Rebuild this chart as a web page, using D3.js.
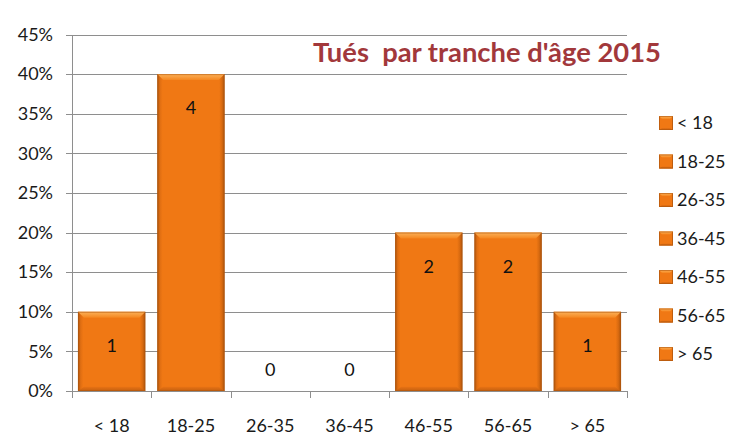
<!DOCTYPE html>
<html lang="fr">
<head>
<meta charset="utf-8">
<title>Tués par tranche d'âge 2015</title>
<script src="https://cdnjs.cloudflare.com/ajax/libs/d3/7.8.5/d3.min.js"></script>
<style>
  body { margin: 0; background: #fff; }
  svg { display: block; font-family: Lato, "Open Sans", sans-serif; }
</style>
</head>
<body>
<script>
// données du graphique
var categories = ["< 18", "18-25", "26-35", "36-45", "46-55", "56-65", "> 65"];
var counts = [1, 4, 0, 0, 2, 2, 1];
var shares = [0.10, 0.40, 0, 0, 0.20, 0.20, 0.10];
var yTicks = [0, 0.05, 0.10, 0.15, 0.20, 0.25, 0.30, 0.35, 0.40, 0.45];
var titleText = "Tués  par tranche d'âge 2015";

var w = 732, h = 439;
var plotLeft = 72, plotRight = 627, plotTop = 34.5, plotBottom = 391;

var svg = d3.select("body").append("svg")
    .attr("width", w)
    .attr("height", h);

var defs = svg.append("defs");
// side shading of the bars
var side = defs.append("linearGradient").attr("id", "barSide")
    .attr("x1", 0).attr("x2", 1).attr("y1", 0).attr("y2", 0);
side.append("stop").attr("offset", "0%").attr("stop-color", "#a9520c");
side.append("stop").attr("offset", "4%").attr("stop-color", "#e06e12");
side.append("stop").attr("offset", "8%").attr("stop-color", "#f07814");
side.append("stop").attr("offset", "92%").attr("stop-color", "#f07814");
side.append("stop").attr("offset", "96%").attr("stop-color", "#d86a10");
side.append("stop").attr("offset", "100%").attr("stop-color", "#a9520c");
var topG = defs.append("linearGradient").attr("id", "barTop")
    .attr("x1", 0).attr("x2", 0).attr("y1", 0).attr("y2", 1);
topG.append("stop").attr("offset", "0%").attr("stop-color", "#fbb25a");
topG.append("stop").attr("offset", "100%").attr("stop-color", "#f5861f");
var botG = defs.append("linearGradient").attr("id", "barBot")
    .attr("x1", 0).attr("x2", 0).attr("y1", 0).attr("y2", 1);
botG.append("stop").attr("offset", "0%").attr("stop-color", "#e87214");
botG.append("stop").attr("offset", "100%").attr("stop-color", "#c4600f");

var x = d3.scaleBand()
    .domain(categories)
    .range([plotLeft, plotRight])
    .paddingInner(0.15)
    .paddingOuter(0.075);

var y = d3.scaleLinear()
    .domain([0, 0.45])
    .range([plotBottom, plotTop]);

// grid lines (they also make the y tick marks)
svg.append("g").selectAll("line")
    .data(yTicks)
    .enter().append("line")
    .attr("x1", plotLeft - 6).attr("x2", plotRight)
    .attr("y1", function(d) { return Math.round(y(d)) + 0.5; })
    .attr("y2", function(d) { return Math.round(y(d)) + 0.5; })
    .attr("stroke", "#8e8e8e")
    .attr("stroke-width", 1);

// y axis line
svg.append("line")
    .attr("x1", plotLeft + 0.5).attr("x2", plotLeft + 0.5)
    .attr("y1", Math.round(y(0.45))).attr("y2", Math.round(y(0)) + 1)
    .attr("stroke", "#8e8e8e");

// y tick labels
svg.append("g").selectAll("text")
    .data(yTicks)
    .enter().append("text")
    .attr("x", 53)
    .attr("y", function(d) { return y(d); })
    .attr("dy", "0.35em")
    .attr("text-anchor", "end")
    .attr("font-size", 18)
    .attr("fill", "#1a1a1a")
    .text(d3.format(".0%"));

// x tick marks at category boundaries
var bounds = categories.map(function(c) { return x(c) - x.step() * x.paddingInner() / 2; });
bounds.push(plotRight);
svg.append("g").selectAll("line")
    .data(bounds)
    .enter().append("line")
    .attr("x1", function(d) { return Math.round(d) + 0.5; })
    .attr("x2", function(d) { return Math.round(d) + 0.5; })
    .attr("y1", Math.round(y(0))).attr("y2", Math.round(y(0)) + 7)
    .attr("stroke", "#8e8e8e");

// x labels
svg.append("g").selectAll("text")
    .data(categories)
    .enter().append("text")
    .attr("x", function(d) { return x(d) + x.bandwidth() / 2; })
    .attr("y", 426)
    .attr("dy", "0.35em")
    .attr("text-anchor", "middle")
    .attr("font-size", 18)
    .attr("fill", "#1a1a1a")
    .text(function(d) { return d; });

var rows = categories.map(function(c, i) { return { cat: c, n: counts[i], v: shares[i] }; });

function drawBar(g, bx, by, bw, bh, bevel) {
    g.append("rect")
        .attr("x", bx).attr("y", by).attr("width", bw).attr("height", bh)
        .attr("fill", "url(#barSide)");
    g.append("path")
        .attr("d", "M" + bx + "," + by + "h" + bw + "l-" + bevel + "," + bevel +
            "h-" + (bw - 2 * bevel) + "z")
        .attr("fill", "url(#barTop)");
    g.append("path")
        .attr("d", "M" + bx + "," + (by + bh) + "h" + bw + "l-" + bevel + ",-" + (bevel * 0.7) +
            "h-" + (bw - 2 * bevel) + "z")
        .attr("fill", "url(#barBot)");
    g.append("rect")
        .attr("x", bx + 0.5).attr("y", by + 0.5).attr("width", bw - 1).attr("height", bh - 1)
        .attr("fill", "none")
        .attr("stroke", "#b0560e")
        .attr("stroke-opacity", 0.6);
}

// bars
svg.append("g").selectAll("g")
    .data(rows.filter(function(d) { return d.v > 0; }))
    .enter().append("g")
    .each(function(d) {
        drawBar(d3.select(this), x(d.cat), y(d.v), x.bandwidth(), y(0) - y(d.v), 6);
    });

// data labels
svg.append("g").selectAll("text")
    .data(rows)
    .enter().append("text")
    .attr("x", function(d) { return x(d.cat) + x.bandwidth() / 2; })
    .attr("y", function(d) { return Math.min(y(d.v) + 34, y(0) - 21); })
    .attr("dy", "0.35em")
    .attr("text-anchor", "middle")
    .attr("font-size", 18)
    .attr("fill", "#111")
    .text(function(d) { return d.n; });

// title
var title = svg.append("text")
    .attr("x", 313)
    .attr("y", 52)
    .attr("dy", "0.35em")
    .attr("font-size", 24)
    .attr("font-weight", "bold")
    .attr("fill", "#a2383b")
    .style("white-space", "pre")
    .text(titleText);
var tw = title.node().getComputedTextLength();
title.attr("font-size", 24 * 348 / tw);

// legend
var legend = svg.append("g").selectAll("g")
    .data(categories)
    .enter().append("g")
    .attr("transform", function(d, i) { return "translate(659," + (123 + i * 38.5) + ")"; });
legend.each(function() {
    drawBar(d3.select(this), 0, -7, 14, 14, 3);
});
legend.append("text")
    .attr("x", 18)
    .attr("dy", "0.35em")
    .attr("font-size", 18)
    .attr("fill", "#1a1a1a")
    .text(function(d) { return d; });
</script>
</body>
</html>
